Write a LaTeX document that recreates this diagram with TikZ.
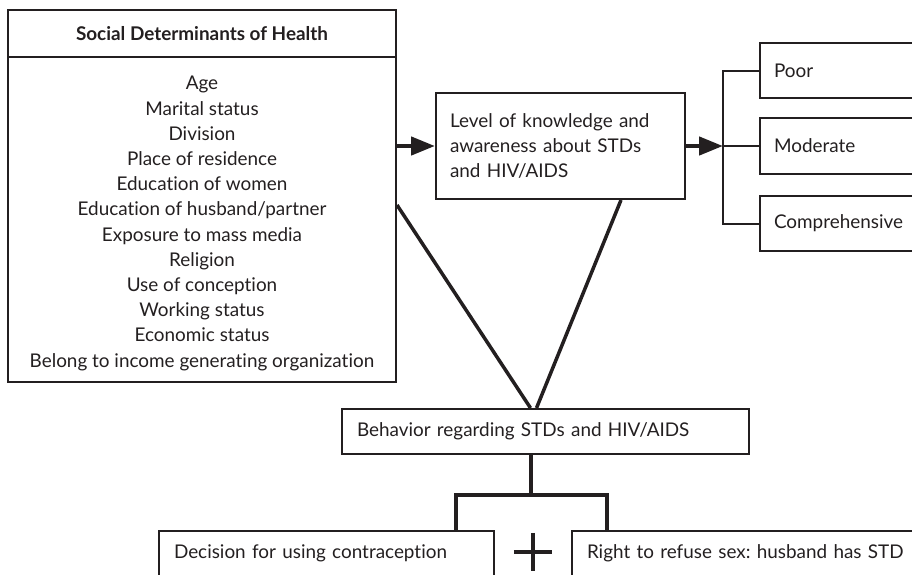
\documentclass[tikz,border=0pt]{standalone}
\usepackage{fontspec}
\setmainfont{Lato}[Ligatures={NoCommon,NoContextual}]
\usetikzlibrary{arrows.meta,positioning,calc}
\definecolor{ink}{RGB}{35,31,32}
\frenchspacing
\tikzset{
  box/.style={draw=ink, line width=2pt, text=ink, inner xsep=14pt, inner ysep=0pt, align=left},
  wire/.style={draw=ink, line width=2pt},
  heavy/.style={draw=ink, line width=3.5pt},
  fatarrow/.style={draw=ink, fill=ink, line width=4.5pt, -{Triangle[length=24pt,width=18pt]}}
}

\begin{document}
\begin{tikzpicture}[x=1pt,y=-1pt,every node/.style={font=\fontsize{18.9}{25.2}\selectfont}]
			%%%%% START %%%%%
			\useasboundingbox (0,0) rectangle (912,574);
			\clip (0,0) rectangle (912,574);
			
			% determinants
			\node[box, align=center, minimum width=388pt, minimum height=47pt, font=\fontsize{18.9}{25.2}\selectfont\bfseries] (sdhhead) at (202,33.5) {Social Determinants of Health};
			\node[box, align=center, minimum width=388pt, minimum height=325pt] (sdhbody) at (202,219.5) {};
			\node[text=ink, align=center] (sdhlist) at (202,223.5) {Age\\Marital status\\Division\\Place of residence\\Education of women\\Education of husband/partner\\Exposure to mass media\\Religion\\Use of conception\\Working status\\Economic status\\Belong to income generating organization};
			
			% knowledge and its levels
			\node[box, text width=221pt, minimum height=106pt] (knowledge) at (560.5,146) {Level of knowledge and\\awareness about STDs\\and HIV/AIDS};
			\coordinate (fork) at (723,146);
			\node[box, text width=142pt, minimum height=55pt] (poor) at (845,70.5) {Poor};
			\node[box, text width=142pt, minimum height=56pt] (moderate) at (845,146) {Moderate};
			\node[box, text width=142pt, minimum height=55pt] (comp) at (845,223.5) {Comprehensive};
			
			% behaviour
			\node[box, inner xsep=15pt, text width=377pt, minimum height=45pt] (behav) at (545.5,431.5) {Behavior regarding STDs and HIV/AIDS};
			\node[box, inner xsep=15pt, inner ysep=12pt, text width=305pt, text height=15pt, text depth=40pt, anchor=north] (decision) at (326.5,530) {Decision for using contraception};
			\node[box, inner xsep=15pt, inner ysep=12pt, text width=328pt, text height=15pt, text depth=40pt, anchor=north] (right) at (751,530) {Right to refuse sex: husband has STD};
			\node[minimum size=38pt, inner sep=0pt] (plus) at (533,552) {};
			
			% connectors
			\draw[fatarrow] (sdhbody.east |- knowledge.west) -- (knowledge.west);
			\draw[fatarrow] (knowledge.east) -- (fork);
			\draw[wire] (poor.west) -| (fork) |- (comp.west);
			\draw[wire] (fork) -- (moderate.west);
			
			\draw[heavy] ([yshift=14.5pt]sdhbody.east) -- ([xshift=-15pt]behav.north);
			\draw[heavy] ([xshift=60.5pt]knowledge.south) -- ([xshift=-9pt]behav.north);
			
			\draw[heavy] ([xshift=-14.5pt]behav.south) -- ++(0,40) coordinate (split);
			\draw[heavy] ([xshift=-39pt]decision.north east) |- (split) -| ([xshift=36pt]right.north west);
			\draw[heavy, line width=4pt] (plus.west) -- (plus.east) (plus.north) -- (plus.south);
			
			%%%%% END %%%%%
\end{tikzpicture}
\end{document}
